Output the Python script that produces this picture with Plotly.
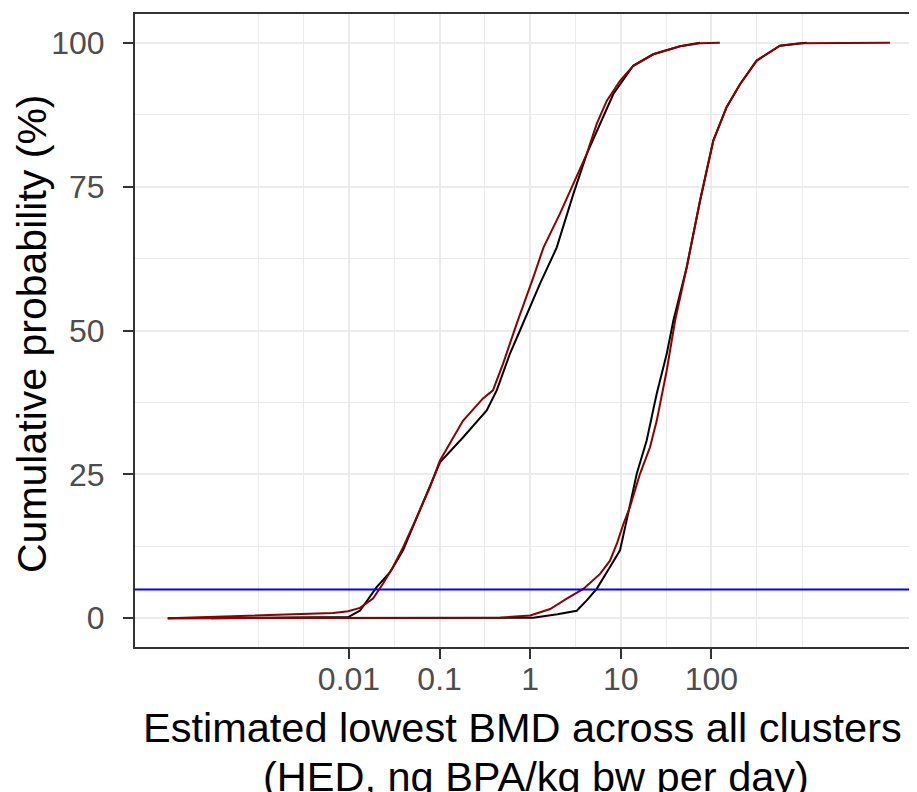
import plotly.graph_objects as go

# ---- data ----
left_black_x = [0.0003, 0.002, 0.0098, 0.0132, 0.0202, 0.0284, 0.0395, 0.0559, 0.0783, 0.101,
                0.181, 0.331, 0.427, 0.598, 0.771, 1.28, 1.96, 2.99, 4.21, 5.90, 8.27, 13.7,
                22.8, 45.0, 74.8]
left_black_y = [0, 0.1, 0.2, 1.3, 5.4, 8.0, 11.8, 17.5, 22.8, 27.1,
                31.4, 36.1, 39.6, 46.0, 50.0, 58.1, 64.4, 73.7, 80.7, 85.9, 91.1, 96.0,
                98.0, 99.4, 100]

left_red_x = [0.0001, 0.0004, 0.0021, 0.0067, 0.0098, 0.0132, 0.0184, 0.0237, 0.0306, 0.0395,
              0.0559, 0.0783, 0.101, 0.120, 0.181, 0.301, 0.388, 0.501, 0.710, 1.08, 1.40,
              2.13, 2.99, 4.21, 5.42, 6.99, 9.80, 13.7, 22.8, 45.0, 74.8, 124]
left_red_y = [0, 0.3, 0.6, 0.9, 1.2, 1.8, 3.4, 6.0, 8.9, 12.3,
              17.5, 22.8, 27.4, 29.5, 34.3, 38.2, 39.6, 44.2, 51.2, 59.2, 64.4,
              70.3, 75.5, 80.7, 85.9, 89.9, 93.4, 96.0, 98.0, 99.4, 99.9, 100]

right_black_x = [0.0001, 0.3, 1.08, 2.0, 3.26, 4.21, 5.42, 7.6, 9.80, 11.6, 15.0, 19.3, 24.9,
                 32.1, 38.0, 53.4, 74.8, 105, 147, 207, 316, 571, 1127]
right_black_y = [0, 0, 0.1, 0.7, 1.3, 3.1, 5.1, 8.9, 11.8, 17.0, 25.1, 30.9, 39.0,
                 45.9, 51.7, 61.0, 72.5, 83.0, 88.8, 92.8, 96.9, 99.5, 100]

right_red_x = [0.0001, 0.464, 1.0, 1.66, 2.53, 3.86, 5.90, 7.6, 9.02, 10.7, 12.6, 16.3, 21.0,
               24.9, 32.1, 39.7, 53.4, 74.8, 105, 147, 207, 316, 571, 950, 9350]
right_red_y = [0, 0.1, 0.47, 1.6, 3.4, 5.1, 7.7, 10.0, 12.9, 16.4, 19.3, 25.1, 29.7,
               34.3, 43.0, 51.7, 61.0, 72.5, 83.0, 88.8, 92.8, 96.9, 99.5, 99.9, 100]

threshold_pct = 5

x_tick_vals = [0.01, 0.1, 1, 10, 100]
x_tick_text = ["0.01", "0.1", "1", "10", "100"]
x_minor_vals = [0.001, 10**-2.5, 10**-1.5, 10**-0.5, 10**0.5, 10**1.5, 10**2.5, 1000]
y_tick_vals = [0, 25, 50, 75, 100]
y_minor_vals = [12.5, 37.5, 62.5, 87.5]

x_title_1 = "Estimated lowest BMD across all clusters"
x_title_2 = "(HED, ng BPA/kg bw per day)"
y_title = "Cumulative probability (%)"

# ---- figure ----
# the page body has an 8px default margin, so the figure is sized to end at the window edge
OFF = 8
FONT = "Liberation Sans, Arial, sans-serif"
W, H = 917 - OFF, 792 - OFF
L_M, R_M, T_M, B_M = 135 - OFF, 0, 14 - OFF, 145
pw, ph = W - L_M - R_M, H - T_M - B_M

fig = go.Figure()
for xs, ys, col in [(left_black_x, left_black_y, "black"),
                    (right_black_x, right_black_y, "black"),
                    (left_red_x, left_red_y, "#8B0000"),
                    (right_red_x, right_red_y, "#8B0000")]:
    fig.add_trace(go.Scatter(x=xs, y=ys, mode="lines",
                             line=dict(color=col, width=2), hoverinfo="skip"))

fig.add_hline(y=threshold_pct, line=dict(color="#0000FF", width=2))

fig.update_layout(
    width=W, height=H,
    margin=dict(l=L_M, r=R_M, t=T_M, b=B_M, pad=0),
    plot_bgcolor="white", paper_bgcolor="white",
    showlegend=False,
    font=dict(family=FONT),
)

fig.update_xaxes(
    type="log", range=[-4.362, 4.2693],
    tickmode="array", tickvals=x_tick_vals, ticktext=x_tick_text,
    ticks="outside", ticklen=10, tickwidth=2, tickcolor="#333333",
    tickfont=dict(size=32, color="#4D4D4D", family=FONT),
    ticklabelstandoff=-7,
    showgrid=True, gridcolor="#EBEBEB", gridwidth=2,
    minor=dict(tickvals=x_minor_vals, showgrid=True, gridcolor="#EBEBEB",
               gridwidth=1.2, ticks=""),
    showline=True, linecolor="#333333", linewidth=2, mirror=True,
    zeroline=False, automargin=False,
)
fig.update_yaxes(
    range=[-5, 105],
    tickmode="array", tickvals=y_tick_vals,
    ticks="outside", ticklen=10, tickwidth=2, tickcolor="#333333",
    tickfont=dict(size=32, color="#4D4D4D", family=FONT),
    ticklabelstandoff=12,
    showgrid=True, gridcolor="#EBEBEB", gridwidth=2,
    minor=dict(tickvals=y_minor_vals, showgrid=True, gridcolor="#EBEBEB",
               gridwidth=1.2, ticks=""),
    showline=True, linecolor="#333333", linewidth=2, mirror=False,
    zeroline=False, automargin=False,
)

def px_x(px):
    # px given in window coordinates
    return (px - OFF - L_M) / pw

def px_y(py):
    return (H - B_M - (py - OFF)) / ph

fig.add_annotation(text=x_title_1, xref="paper", yref="paper",
                   x=px_x(522), y=px_y(727), xanchor="center", yanchor="middle",
                   showarrow=False, font=dict(size=41.5, color="black", family=FONT))
fig.add_annotation(text=x_title_2, xref="paper", yref="paper",
                   x=px_x(536), y=px_y(776), xanchor="center", yanchor="middle",
                   showarrow=False, font=dict(size=41.5, color="black", family=FONT))
fig.add_annotation(text=y_title, xref="paper", yref="paper",
                   x=px_x(32), y=px_y(334), xanchor="center", yanchor="middle",
                   textangle=-90, showarrow=False,
                   font=dict(size=41, color="black", family=FONT))

fig.write_html("out.html")
